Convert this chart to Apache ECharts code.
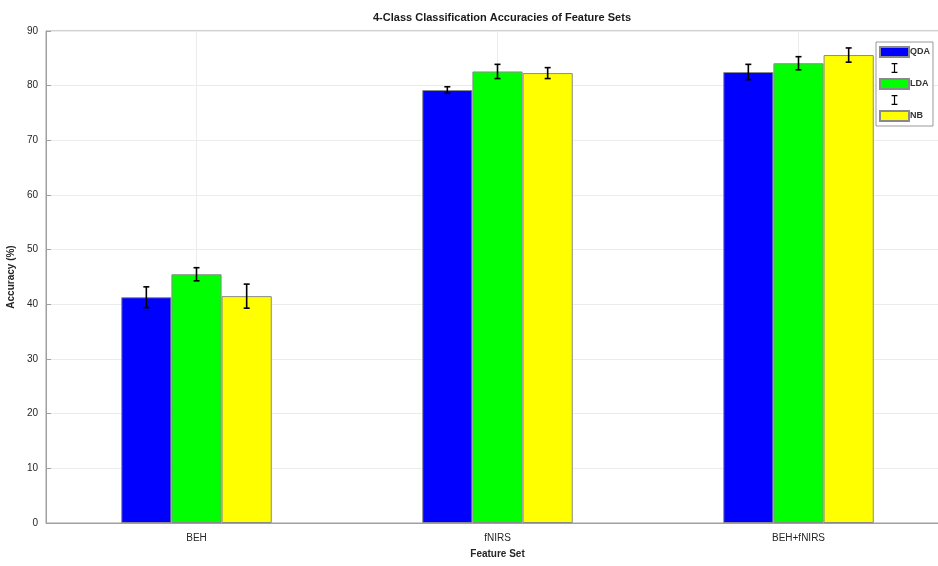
<!DOCTYPE html>
<html><head><meta charset="utf-8">
<script src="https://cdn.jsdelivr.net/npm/echarts@6/dist/echarts.min.js"></script>
<style>html,body{margin:0;padding:0;background:#fff}#c{width:938px;height:566px}</style>
</head><body><div id="c"></div>
<script>
const categories = ['BEH', 'fNIRS', 'BEH+fNIRS'];
const seriesNames = ['QDA', 'LDA', 'NB'];
const qdaMean = [41.3, 79.2, 82.5];
const ldaMean = [45.5, 82.6, 84.1];
const nbMean  = [41.5, 82.3, 85.6];
const qdaErr = [1.9, 0.6, 1.4];
const ldaErr = [1.2, 1.3, 1.2];
const nbErr  = [2.2, 1.0, 1.3];
const yTicks = [0, 10, 20, 30, 40, 50, 60, 70, 80, 90];

const means = [qdaMean, ldaMean, nbMean];
const errs = [qdaErr, ldaErr, nbErr];
const colors = ['#0000ff', '#00ff00', '#ffff00'];
const font = '"Liberation Sans", Arial, sans-serif';

const chart = echarts.init(document.getElementById('c'), null, {renderer: 'canvas'});

const barSeries = seriesNames.map((n, i) => ({
  name: n, type: 'bar', data: means[i],
  barGap: '0%', barCategoryGap: '50%',
  itemStyle: {color: colors[i], borderColor: '#8a8a8a', borderWidth: 1},
  emphasis: {disabled: true}, z: 3
}));

function errRender(si) {
  return function (params, api) {
    const ci = api.value(0);
    const lo = api.coord([ci, api.value(1)]);
    const hi = api.coord([ci, api.value(2)]);
    const band = api.size([1, 0])[0];
    const bw = band * 0.5 / 3;
    const x = lo[0] + (si - 1) * bw;
    const cap = 3;
    const st = {stroke: '#000', lineWidth: 1.6};
    return {type: 'group', children: [
      {type: 'line', shape: {x1: x, y1: lo[1], x2: x, y2: hi[1]}, style: st},
      {type: 'line', shape: {x1: x - cap, y1: lo[1], x2: x + cap, y2: lo[1]}, style: st},
      {type: 'line', shape: {x1: x - cap, y1: hi[1], x2: x + cap, y2: hi[1]}, style: st}
    ]};
  };
}

const errSeries = seriesNames.map((n, i) => ({
  name: 'err' + n, type: 'custom',
  renderItem: errRender(i),
  data: categories.map((c, k) => [k, means[i][k] - errs[i][k], means[i][k] + errs[i][k]]),
  itemStyle: {color: '#000'},
  z: 6, silent: true
}));

// vertical grid lines at category centres (MATLAB x-grid)
const gridSeries = {
  name: 'xgrid', type: 'line', data: [], z: 1, silent: true,
  markLine: {
    silent: true, z: 1, symbol: ['none', 'none'], label: {show: false},
    lineStyle: {color: '#ececec', type: 'solid', width: 1},
    data: categories.map(c => ({xAxis: c}))
  }
};

const ibeam = 'path://M0,0 H7 V1.4 H4.2 V10.6 H7 V12 H0 V10.6 H2.8 V1.4 H0 Z';

chart.setOption({
  animation: false,
  backgroundColor: '#fff',
  title: {
    text: '4-Class Classification Accuracies of Feature Sets',
    left: 497, top: 7, textAlign: 'center',
    textStyle: {fontFamily: font, fontSize: 11, fontWeight: 'bold', color: '#1a1a1a'}
  },
  grid: {left: 46, top: 31, right: -11, bottom: 43, outerBoundsMode: 'none', containLabel: false,
    show: true, borderColor: '#a0a0a0', borderWidth: 1, backgroundColor: 'transparent'},
  legend: {
    orient: 'vertical', left: 876, top: 42, z: 10,
    backgroundColor: '#fff', borderColor: '#9a9a9a', borderWidth: 1,
    padding: [4, 3, 4, 3], itemGap: 5, itemWidth: 29, itemHeight: 10,
    selectedMode: false,
    data: [
      {name: 'QDA', icon: 'rect'},
      {name: 'errQDA', icon: ibeam},
      {name: 'LDA', icon: 'rect'},
      {name: 'errLDA', icon: ibeam},
      {name: 'NB', icon: 'rect'}
    ],
    formatter: n => n.startsWith('err') ? '' : n,
    textStyle: {fontFamily: font, fontSize: 9, fontWeight: 'bold', color: '#333', padding: [0, 0, 0, -4], lineHeight: 12}
  },
  xAxis: {
    type: 'category', data: categories,
    name: 'Feature Set', nameLocation: 'middle', nameGap: 26,
    nameTextStyle: {fontFamily: font, fontSize: 10, fontWeight: 'bold', color: '#262626'},
    axisLine: {lineStyle: {color: '#a0a0a0'}},
    axisTick: {show: false},
    axisLabel: {fontFamily: font, fontSize: 10, color: '#262626', margin: 10},
    splitLine: {show: false}
  },
  yAxis: {
    type: 'value', min: 0, max: 90, interval: 10,
    name: 'Accuracy (%)', nameLocation: 'middle', nameGap: 27,
    nameTextStyle: {fontFamily: font, fontSize: 10, fontWeight: 'bold', color: '#262626'},
    axisLine: {show: true, lineStyle: {color: '#a0a0a0'}},
    axisTick: {show: true, inside: true, length: 5, lineStyle: {color: '#a0a0a0'}},
    axisLabel: {fontFamily: font, fontSize: 10, color: '#262626', margin: 8,
      formatter: v => yTicks.includes(v) ? String(v) : ''},
    splitLine: {show: true, lineStyle: {color: '#ececec'}}
  },
  series: [gridSeries, ...barSeries, ...errSeries]
});
</script>
</body></html>
